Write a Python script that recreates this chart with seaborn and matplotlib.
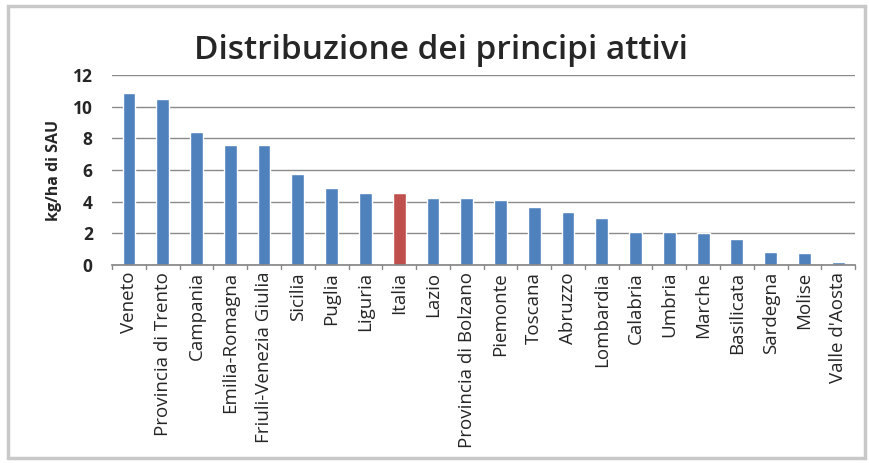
import matplotlib
matplotlib.use("Agg")
import matplotlib.pyplot as plt
import seaborn as sns
import pandas as pd
from matplotlib.patches import Rectangle

categories = ["Veneto", "Provincia di Trento", "Campania", "Emilia-Romagna",
              "Friuli-Venezia Giulia", "Sicilia", "Puglia", "Liguria", "Italia",
              "Lazio", "Provincia di Bolzano", "Piemonte", "Toscana", "Abruzzo",
              "Lombardia", "Calabria", "Umbria", "Marche", "Basilicata",
              "Sardegna", "Molise", "Valle d'Aosta"]
values = [10.85, 10.46, 8.38, 7.58, 7.58, 5.73, 4.84, 4.57, 4.57,
          4.21, 4.21, 4.10, 3.64, 3.33, 2.99, 2.06, 2.06, 2.00, 1.62,
          0.84, 0.78, 0.17]
yticks = [0, 2, 4, 6, 8, 10, 12]
title = "Distribuzione dei principi attivi"
ylabel = "kg/ha di SAU"

df = pd.DataFrame({"regione": categories, "valore": values})
palette = {c: ("#C0504D" if c == "Italia" else "#4F81BD") for c in categories}

sns.set_theme(style="white")
plt.rcParams["font.family"] = ["Open Sans", "DejaVu Sans"]

fig = plt.figure(figsize=(8.69, 4.63), dpi=100)
ax = fig.add_axes([0.129, 0.4276, 0.855, 0.4104])

sns.barplot(data=df, x="regione", y="valore", hue="regione", palette=palette,
            width=0.38, legend=False, ax=ax, saturation=1)

ax.set_ylim(0, 12)
ax.set_xlim(-0.5, len(categories) - 0.5)
ax.set_yticks(yticks)
ax.set_yticklabels([str(t) for t in yticks], fontsize=12.5, fontweight="bold")
ax.set_xticks(range(len(categories)))
ax.set_xticklabels(categories, rotation=90, fontsize=13.5)
ax.tick_params(axis="x", length=0, pad=5)
ax.tick_params(axis="y", length=0, pad=14)
# category separator ticks (Excel style)
for i in range(len(categories) + 1):
    ax.plot([i - 0.5, i - 0.5], [0, -0.25], color="#888888", lw=1, clip_on=False)

ax.yaxis.grid(True, color="#8a8a8a", lw=1)
ax.set_axisbelow(True)
for s in ["top", "right", "left"]:
    ax.spines[s].set_visible(False)
ax.spines["bottom"].set_color("#888888")
ax.set_xlabel("")
ax.set_ylabel(ylabel, fontsize=11.5, fontweight="bold", labelpad=8)

fig.text(0.507, 0.891, title, ha="center", va="center", fontsize=24, fontweight="semibold")

fig.patches.append(Rectangle((8 / 869, 5 / 463), 857 / 869, 452 / 463,
                             transform=fig.transFigure, fill=False,
                             edgecolor="#c8c8c8", lw=2.5))

fig.savefig("out.png", dpi=100)
